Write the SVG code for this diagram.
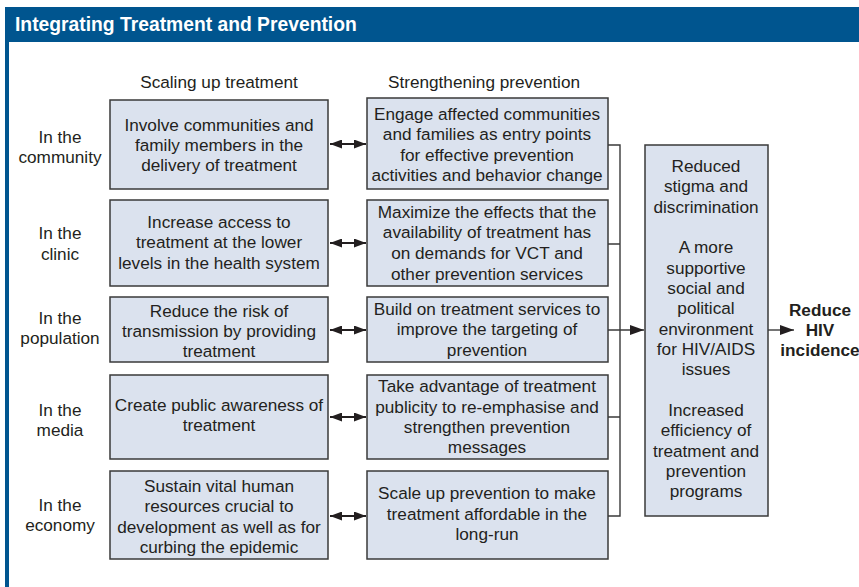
<svg xmlns="http://www.w3.org/2000/svg" width="859" height="587" viewBox="0 0 859 587">
<defs>
<style>
text{font-family:"Liberation Sans",Arial,sans-serif;fill:#231f20;font-size:17.2px;text-anchor:middle}
.title{fill:#fff;font-weight:bold;font-size:19.3px;text-anchor:start}
.bold{font-weight:bold}
.box{fill:#dbe2ee;stroke:#3a3a3a;stroke-width:1.5}
.ln{stroke:#3a3a3a;stroke-width:1.4;fill:none}
.dl{stroke:#231f20;stroke-width:1.8;fill:none}
</style>
<marker id="ah" viewBox="0 0 12 9" refX="12" refY="4.5" markerWidth="12" markerHeight="9" markerUnits="userSpaceOnUse" orient="auto-start-reverse">
<path d="M0,0 L12,4.5 L0,9 z" fill="#231f20"/>
</marker>
<marker id="ah2" viewBox="0 0 14 10" refX="14" refY="5" markerWidth="14" markerHeight="10" markerUnits="userSpaceOnUse" orient="auto">
<path d="M0,0 L14,5 L0,10 z" fill="#231f20"/>
</marker>
</defs>
<rect x="0" y="0" width="859" height="587" fill="#fff"/>
<g id="frame">
<rect x="5" y="7" width="854" height="35" fill="#00558f"/>
<rect x="5" y="7" width="4" height="580" fill="#00558f"/>
<text class="title" x="15" y="31">Integrating Treatment and Prevention</text>
</g>
<g id="headers">
<text x="219" y="88">Scaling up treatment</text>
<text x="484" y="88">Strengthening prevention</text>
</g>
<g id="row-labels">
<text x="60" y="143">In the</text><text x="60" y="163">community</text>
<text x="60" y="239">In the</text><text x="60" y="260">clinic</text>
<text x="60" y="324">In the</text><text x="60" y="344">population</text>
<text x="60" y="416">In the</text><text x="60" y="436">media</text>
<text x="60" y="511">In the</text><text x="60" y="531">economy</text>
</g>
<g id="t1"><rect class="box" x="110" y="100" width="218" height="89"/>
<text x="219" y="131">Involve communities and</text><text x="219" y="151">family members in the</text><text x="219" y="171">delivery of treatment</text></g>
<g id="t2"><rect class="box" x="110" y="200" width="218" height="86"/>
<text x="219" y="228">Increase access to</text><text x="219" y="248">treatment at the lower</text><text x="219" y="269">levels in the health system</text></g>
<g id="t3"><rect class="box" x="110" y="297" width="218" height="65"/>
<text x="219" y="317">Reduce the risk of</text><text x="219" y="337">transmission by providing</text><text x="219" y="357">treatment</text></g>
<g id="t4"><rect class="box" x="110" y="375" width="218" height="84"/>
<text x="219" y="411">Create public awareness of</text><text x="219" y="431">treatment</text></g>
<g id="t5"><rect class="box" x="110" y="471" width="218" height="88"/>
<text x="219" y="492">Sustain vital human</text><text x="219" y="512">resources crucial to</text><text x="219" y="533">development as well as for</text><text x="219" y="553">curbing the epidemic</text></g>
<g id="p1"><rect class="box" x="367" y="98" width="241" height="91"/>
<text x="487" y="120">Engage affected communities</text><text x="487" y="140">and families as entry points</text><text x="487" y="161">for effective prevention</text><text x="487" y="181">activities and behavior change</text></g>
<g id="p2"><rect class="box" x="367" y="200" width="241" height="86"/>
<text x="487" y="218">Maximize the effects that the</text><text x="487" y="238">availability of treatment has</text><text x="487" y="259">on demands for VCT and</text><text x="487" y="280">other prevention services</text></g>
<g id="p3"><rect class="box" x="367" y="297" width="241" height="65"/>
<text x="487" y="315">Build on treatment services to</text><text x="487" y="335">improve the targeting of</text><text x="487" y="356">prevention</text></g>
<g id="p4"><rect class="box" x="367" y="375" width="241" height="84"/>
<text x="487" y="392">Take advantage of treatment</text><text x="487" y="413">publicity to re-emphasise and</text><text x="487" y="433">strengthen prevention</text><text x="487" y="453">messages</text></g>
<g id="p5"><rect class="box" x="367" y="471" width="241" height="88"/>
<text x="487" y="499">Scale up prevention to make</text><text x="487" y="520">treatment affordable in the</text><text x="487" y="540">long-run</text></g>
<g id="outcomes"><rect class="box" x="645" y="145" width="123" height="371"/>
<text x="706" y="172">Reduced</text><text x="706" y="192">stigma and</text><text x="706" y="213">discrimination</text>
<text x="706" y="253">A more</text><text x="706" y="274">supportive</text><text x="706" y="294">social and</text><text x="706" y="314">political</text><text x="706" y="335">environment</text><text x="706" y="355">for HIV/AIDS</text><text x="706" y="375">issues</text>
<text x="706" y="416">Increased</text><text x="706" y="436">efficiency of</text><text x="706" y="457">treatment and</text><text x="706" y="477">prevention</text><text x="706" y="497">programs</text></g>
<g id="result">
<text class="bold" x="820" y="316">Reduce</text><text class="bold" x="820" y="336">HIV</text><text class="bold" x="820" y="356">incidence</text></g>
<g id="connectors">
<line class="dl" x1="330" y1="144" x2="366" y2="144" marker-start="url(#ah)" marker-end="url(#ah)"/>
<line class="dl" x1="330" y1="243" x2="366" y2="243" marker-start="url(#ah)" marker-end="url(#ah)"/>
<line class="dl" x1="330" y1="330" x2="366" y2="330" marker-start="url(#ah)" marker-end="url(#ah)"/>
<line class="dl" x1="330" y1="417" x2="366" y2="417" marker-start="url(#ah)" marker-end="url(#ah)"/>
<line class="dl" x1="330" y1="516" x2="366" y2="516" marker-start="url(#ah)" marker-end="url(#ah)"/>
<path class="ln" d="M608,145 H620 V516 H608 M608,244 H620 M608,417 H620"/>
<line class="ln" x1="608" y1="330" x2="644" y2="330" marker-end="url(#ah2)"/>
<line class="ln" x1="768" y1="330" x2="794" y2="330" marker-end="url(#ah2)"/>
</g>
</svg>
